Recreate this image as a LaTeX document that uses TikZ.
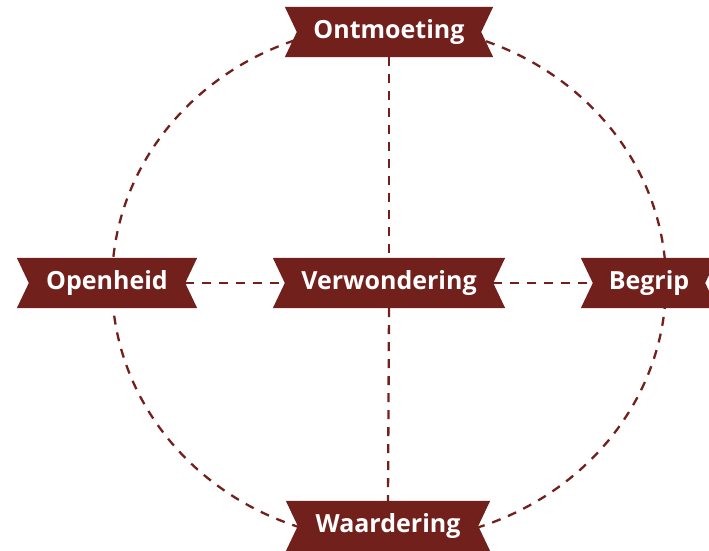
\documentclass[tikz,border=0pt]{standalone}
\usepackage{fontspec}
\setmainfont{Open Sans}
\usetikzlibrary{backgrounds}
\definecolor{brick}{RGB}{114,32,28}
\tikzset{
  banner/.style={rectangle, minimum height=50pt, inner sep=0pt, text=white,
    font=\fontsize{25}{28}\selectfont\bfseries},
  link/.style={draw=brick, line width=2.3pt, dash pattern=on 9pt off 8pt},
}
\newcommand\bannerfill[1]{%
  \fill[brick] (#1.north west) -- (#1.north east) -- ([xshift=-12pt]#1.east)
    -- (#1.south east) -- (#1.south west) -- ([xshift=12pt]#1.west) -- cycle;}
\begin{document}
\begin{tikzpicture}[x=1pt,y=-1pt]
\useasboundingbox (0,0) rectangle (709,550);
\node[banner, minimum width=208pt] (ont) at (389,32) {Ontmoeting};
\node[banner, minimum width=180pt] (open) at (107,283) {Openheid};
\node[banner, minimum width=232pt] (ver) at (389,283) {Verwondering};
\node[banner, minimum width=136pt] (beg) at (649,283) {Begrip};
\node[banner, minimum width=204pt] (waa) at (388,526) {Waardering};
\begin{scope}[on background layer]
  \draw[link] (ver.center) ellipse [x radius=277, y radius=258];
  \draw[link] (ont.south) -- (ver.north);
  \draw[link] (ver.south) -- (waa.north);
  \draw[link] ([xshift=-12pt]open.east) -- ([xshift=12pt]ver.west);
  \draw[link] ([xshift=-12pt]ver.east) -- ([xshift=12pt]beg.west);
  \bannerfill{ont}
  \bannerfill{open}
  \bannerfill{ver}
  \bannerfill{beg}
  \bannerfill{waa}
\end{scope}
\end{tikzpicture}
\end{document}
